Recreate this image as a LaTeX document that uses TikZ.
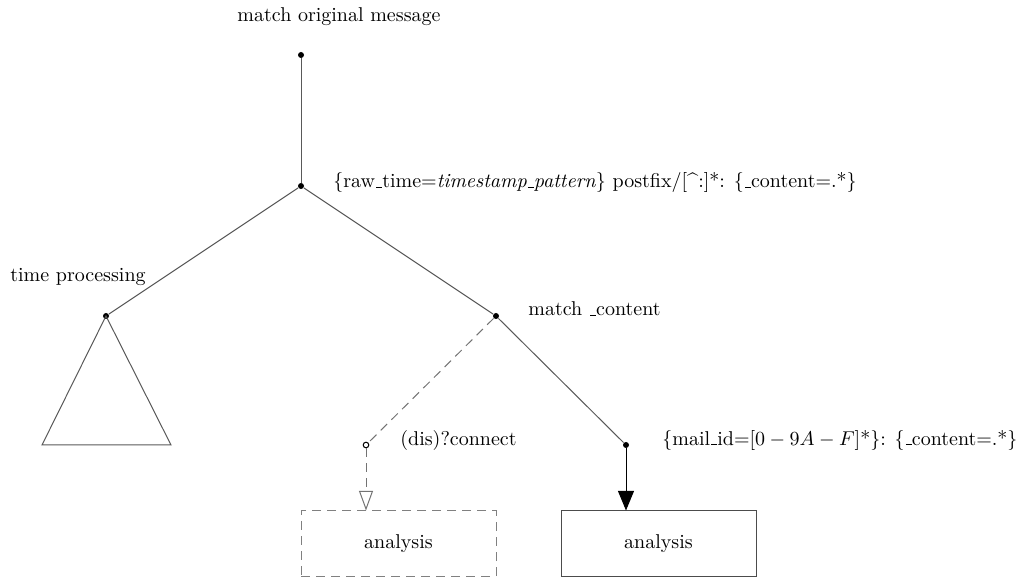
\documentclass[tikz,border=0pt]{standalone}
\usetikzlibrary{arrows.meta}
\newcommand\myus{\leavevmode\kern.06em\vbox{\hrule width.3em}}
\begin{document}
\begin{tikzpicture}[x=0.5pt,y=-0.5pt,
  dot/.style={circle,fill=black,inner sep=0pt,minimum size=3pt},
  odot/.style={circle,draw=black,fill=white,inner sep=0pt,minimum size=2.8pt,line width=0.5pt},
  lbl/.style={inner sep=0pt,anchor=west},
  edge/.style={draw=black!65,line width=0.5pt},
  dedge/.style={draw=black!55,line width=0.5pt,dash pattern=on 4.5pt off 3pt},
  box/.style={draw=black!70,line width=0.5pt,minimum width=97.5pt,minimum height=32.5pt,inner sep=0pt},
  dbox/.style={draw=black!50,line width=0.5pt,dash pattern=on 4.5pt off 3pt,minimum width=97.5pt,minimum height=32.5pt,inner sep=0pt}]
\useasboundingbox (0,0) rectangle (1024,577);
\node[dot] (r) at (301,55) {};
\node[inner sep=0pt] (rl) at (339,17) {match original message};
\node[dot] (a) at (301,186) {};
\node[lbl] (al) at (333,183) {\{raw\myus time=\textit{timestamp\myus pattern}\} postfix/[\textasciicircum:]*: \{\myus content=.*\}};
\node[dot] (t) at (106,316) {};
\node[inner sep=0pt] (tl) at (78,277) {time processing};
\coordinate (tb1) at (42,445);
\coordinate (tb2) at (171,445);
\node[dot] (m) at (496,316) {};
\node[lbl] (ml) at (528,309) {match \myus content};
\node[odot] (d) at (366,445) {};
\node[lbl] (dl) at (400,440) {(dis)?connect};
\node[dot] (c) at (626,445) {};
\node[lbl] (cl) at (662,440) {\{mail\myus id=$[0-9A-F]$*\}: \{\myus content=.*\}};
\node[dbox] (b1) at (398.5,543.5) {analysis};
\node[box] (b2) at (658.5,543.5) {analysis};
\draw[edge] (r) -- (a);
\draw[edge] (a) -- (t);
\draw[edge] (a) -- (m);
\draw[edge] (t.center) -- (tb1) -- (tb2) -- cycle;
\draw[dedge] (m) -- (d);
\draw[edge] (m) -- (c);
\draw[dedge,-{Triangle[open,length=9.8pt,width=7pt]}] (d) -- (b1.north -| d);
\draw[edge,draw=black,-{Triangle[length=9.8pt,width=8pt]}] (c) -- (b2.north -| c);
\end{tikzpicture}
\end{document}
